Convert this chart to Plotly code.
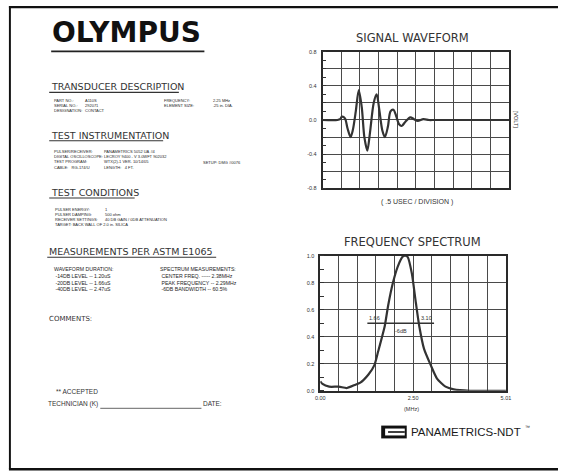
import plotly.graph_objects as go

W, H = 563, 474

# ---------------- data ----------------
wave_time_us = [0.0, 0.40, 0.47, 0.52, 0.60, 0.67, 0.75, 0.81, 0.89, 0.97, 1.05, 1.12, 1.20,
                1.27, 1.37, 1.45, 1.52, 1.60, 1.67, 1.75, 1.82, 1.90, 1.97, 2.05, 2.12,
                2.22, 2.35, 2.45, 2.55, 2.70, 2.85, 3.0, 5.0]
wave_volt = [0.0, 0.0, 0.01, 0.04, 0.02, -0.10, -0.20, -0.12, 0.10, 0.35, 0.15, -0.20, -0.36,
             -0.15, 0.20, 0.30, 0.12, -0.12, -0.20, -0.08, 0.10, 0.12, 0.05, -0.05, -0.07,
             -0.02, 0.03, 0.01, -0.01, 0.01, 0.0, 0.0, 0.0]

spec_freq_mhz = [0.0, 0.06, 0.24, 0.50, 0.72, 0.95, 1.08, 1.30, 1.46, 1.56, 1.74, 1.83, 1.96,
                 2.09, 2.23, 2.29, 2.36, 2.47, 2.58, 2.67, 2.80, 2.98, 3.15, 3.38, 3.60,
                 4.04, 5.01]
spec_amp = [0.07, 0.05, 0.03, 0.03, 0.02, 0.045, 0.06, 0.12, 0.19, 0.29, 0.48, 0.63, 0.80,
            0.92, 0.995, 1.0, 0.99, 0.87, 0.65, 0.48, 0.31, 0.19, 0.09, 0.03, 0.01,
            0.0, 0.0]

wave_ytick_vals = [-0.8, -0.6, -0.4, -0.2, 0.0, 0.2, 0.4, 0.6, 0.8]
wave_ytick_text = ["-0.8", "", "-0.4", "", "0.0", "", "0.4", "", "0.8"]
spec_ytick_vals = [0.0, 0.2, 0.4, 0.6, 0.8, 1.0]
spec_ytick_text = ["0.0", "0.2", "0.4", "0.6", "0.8", "1.0"]
spec_xtick_vals = [0.0, 0.501, 1.002, 1.503, 2.004, 2.505, 3.006, 3.507, 4.008, 4.509, 5.01]
spec_xtick_text = ["0.00", "", "", "", "", "2.50", "", "", "", "", "5.01"]

bw_edges_mhz = [1.27, 3.07]
bw_level = [0.5, 0.5]
bw_labels = ["1.66", "3.10"]
bw_name = "-6dB"

# ---------------- helpers ----------------
def px(x):
    return x / W


def py(y):
    return 1 - y / H


INK = "#333333"
BODY_INK = "#1e1e1e"
REG = "Liberation Sans, Arial, sans-serif"
HEAD_FONT = "DejaVu Sans, sans-serif"

annotations = []
shapes = []


def txt(x, y, s, size=5, font=REG, anchor="left", color=INK, weight=None, angle=0):
    f = dict(family=font, size=size, color=color)
    if weight:
        f["weight"] = weight
    annotations.append(dict(x=px(x), y=py(y), xref="paper", yref="paper", text=s,
                            showarrow=False, xanchor=anchor, yanchor="middle", align="left",
                            font=f, textangle=angle))


def column(x, y_first, lines, size, font=REG, color=BODY_INK):
    """multi-line text column; y_first is the centre of its first row"""
    step = 1.3 * size
    yc = y_first + (len(lines) - 1) * step / 2
    body = "<br>".join(l.replace(" ", "\u00a0") for l in lines)
    txt(x, yc, body, size=size, font=font, color=color)


def hline(x0, x1, y, w=1.2, color=INK):
    shapes.append(dict(type="line", xref="paper", yref="paper", x0=px(x0), x1=px(x1),
                       y0=py(y), y1=py(y), line=dict(color=color, width=w)))


def header(x, y, s, x_end):
    txt(x, y, s, size=9.5, font=HEAD_FONT)
    hline(x, x_end, y + 5.5, w=1.1)


# ---------------- figure ----------------
fig = go.Figure()
fig.add_trace(go.Scatter(x=wave_time_us, y=wave_volt, mode="lines", xaxis="x", yaxis="y",
                         line=dict(color="#333", width=2.2, shape="spline", smoothing=0.8),
                         hoverinfo="skip", showlegend=False))
fig.add_trace(go.Scatter(x=spec_freq_mhz, y=spec_amp, mode="lines", xaxis="x2", yaxis="y2",
                         line=dict(color="#333", width=2.2, shape="spline", smoothing=0.6),
                         hoverinfo="skip", showlegend=False))
fig.add_trace(go.Scatter(x=bw_edges_mhz, y=bw_level, mode="lines", xaxis="x2", yaxis="y2",
                         line=dict(color="#333", width=1.6),
                         hoverinfo="skip", showlegend=False))

annotations.append(dict(x=bw_edges_mhz[0], y=bw_level[0], xref="x2", yref="y2", text=bw_labels[0],
                        showarrow=False, xanchor="left", yanchor="bottom",
                        font=dict(family=REG, size=5.5, color=INK)))
annotations.append(dict(x=bw_edges_mhz[1], y=bw_level[1], xref="x2", yref="y2", text=bw_labels[1],
                        showarrow=False, xanchor="right", yanchor="bottom",
                        font=dict(family=REG, size=5.5, color=INK)))
annotations.append(dict(x=(bw_edges_mhz[0] + bw_edges_mhz[1]) / 2, y=bw_level[0], xref="x2", yref="y2",
                        text=bw_name, showarrow=False, xanchor="center", yanchor="top", yshift=-3,
                        font=dict(family=REG, size=5.5, color=INK)))

axis_common = dict(showline=True, mirror=True, linecolor="#2a2a2a", linewidth=1.6,
                   showgrid=True, gridcolor="#4a4a4a", gridwidth=1.2, zeroline=False,
                   tickfont=dict(family=REG, size=5.5, color=INK), fixedrange=True)

layout = dict(
    width=W, height=H, margin=dict(l=0, r=0, t=0, b=0),
    paper_bgcolor="white", plot_bgcolor="white",
    xaxis=dict(domain=[px(323.3), px(513.3)], range=[0, 5], dtick=0.5, tick0=0,
               showticklabels=False, ticks="", anchor="y", **axis_common),
    yaxis=dict(domain=[py(187.7), py(49.3)], range=[-0.8, 0.8], tickmode="array",
               tickvals=wave_ytick_vals, ticktext=wave_ytick_text, ticks="",
               minor=dict(ticks="inside", ticklen=4, dtick=0.1, tick0=0, tickcolor="#333",
                          showgrid=False),
               ticklabelstandoff=3, anchor="x", **axis_common),
    xaxis2=dict(domain=[px(321), px(510)], range=[0, 5.01], tickmode="array",
                tickvals=spec_xtick_vals, ticktext=spec_xtick_text, ticks="",
                ticklabelstandoff=1, anchor="y2", **axis_common),
    yaxis2=dict(domain=[py(392.7), py(256)], range=[0, 1.0], tickmode="array",
                tickvals=spec_ytick_vals, ticktext=spec_ytick_text, ticks="",
                minor=dict(ticks="inside", ticklen=4, dtick=0.1, tick0=0, tickcolor="#333",
                           showgrid=False),
                ticklabelstandoff=3, anchor="x2", **axis_common),
)

# ---- frame ----
shapes.append(dict(type="rect", xref="paper", yref="paper", x0=px(4), x1=px(6), y0=py(472), y1=py(3),
                   fillcolor="#111", line=dict(width=0)))
shapes.append(dict(type="rect", xref="paper", yref="paper", x0=px(4), x1=px(563), y0=py(5.2), y1=py(3),
                   fillcolor="#111", line=dict(width=0)))
shapes.append(dict(type="rect", xref="paper", yref="paper", x0=px(4), x1=px(563), y0=py(473.5), y1=py(471),
                   fillcolor="#111", line=dict(width=0)))

# ---- Olympus logo ----
txt(124, 30, "OLYMPUS", size=28, font="DejaVu Sans, sans-serif", anchor="center",
    color="#111", weight="bold")
hline(47, 203, 49, w=1.8, color="#222")

# ---- left text blocks ----
BS = 4.0
RS = 1.3 * BS
header(45, 85, "TRANSDUCER DESCRIPTION", 177)
column(48, 99, ["PART NO.:", "SERIAL NO.:", "DESIGNATION:"], BS)
column(79, 99, ["A110S", "292071", "CONTACT"], BS)
column(160, 99, ["FREQUENCY:", "ELEMENT SIZE:"], BS)
column(210, 99, ["2.25 MHz", ".25 in. DIA."], BS)

header(45, 134, "TEST INSTRUMENTATION", 161)
column(48, 151, ["PULSER/RECEIVER:", "DIGITAL OSCILLOSCOPE:", "TEST PROGRAM:", "CABLE:   RG-174/U"], BS)
column(99, 151, ["PANAMETRICS 5052 UA #4", "LECROY 9400 - V 3.0WFT 902032",
                 "WTX(2)-1 VER. 10/14/05", "LENGTH:   4 FT."], BS)
txt(200, 151 + 2 * RS, "SETUP: DMG #0076".replace(" ", "\u00a0"), size=BS, color=BODY_INK)

header(45, 192, "TEST CONDITIONS", 132)
column(49, 209, ["PULSER ENERGY:", "PULSER DAMPING:", "RECEIVER SETTINGS:"], BS)
column(100, 209, ["1", "500 ohm", "40 DB GAIN / 0DB ATTENUATION"], BS)
txt(49, 209 + 3 * RS, "TARGET: BACK WALL OF 2.0 in. SILICA".replace(" ", "\u00a0"),
    size=BS, color=BODY_INK)

header(43, 252, "MEASUREMENTS PER ASTM E1065", 215)
MS = 5.2
m0 = 280 - 1.5 * 1.3 * MS
column(48, m0, ["WAVEFORM DURATION:", " -14DB LEVEL -- 1.20uS", " -20DB LEVEL -- 1.66uS",
                " -40DB LEVEL -- 2.47uS"], MS)
column(156, m0, ["SPECTRUM MEASUREMENTS:", " CENTER FREQ. ----- 2.38MHz", " PEAK FREQUENCY -- 2.29MHz",
                 " -6DB BANDWIDTH -- 60.5%"], MS)

txt(43, 320, "COMMENTS:", size=7, font=HEAD_FONT)
txt(50, 393, "** ACCEPTED", size=6.5)
txt(42, 406, "TECHNICIAN (K)", size=6.5)
hline(97, 200, 410.5, w=0.9, color="#555")
txt(200, 406, "DATE:", size=6.5)

# ---- chart titles / labels ----
txt(415, 35, "SIGNAL WAVEFORM", size=11.5, font=HEAD_FONT, anchor="center")
txt(419, 202, "( .5 USEC / DIVISION )", size=7, anchor="center")
txt(521, 118, "[VOLT]", size=5.5, anchor="center", angle=90)
txt(415, 242, "FREQUENCY SPECTRUM", size=11.5, font=HEAD_FONT, anchor="center")
txt(414, 411, "(MHz)", size=5.5, anchor="center")

# ---- Panametrics logo ----
shapes.append(dict(type="rect", xref="paper", yref="paper", x0=px(383), x1=px(409),
                   y0=py(441), y1=py(428), fillcolor="#111", line=dict(width=0)))
shapes.append(dict(type="rect", xref="paper", yref="paper", x0=px(387), x1=px(407),
                   y0=py(438), y1=py(431), fillcolor="white", line=dict(width=0)))
hline(390, 407, 434.5, w=1.6, color="#111")
txt(411, 434, "PANAMETRICS-NDT", size=11.5, font=REG, color="#1a1a1a")
txt(527.5, 429.5, "™", size=5, font=REG, color="#1a1a1a")

layout["annotations"] = annotations
layout["shapes"] = shapes
fig.update_layout(**layout)
fig.write_html("out.html", config={"displayModeBar": False},
               post_script="document.body.style.margin='0px';document.body.style.overflow='hidden';")
